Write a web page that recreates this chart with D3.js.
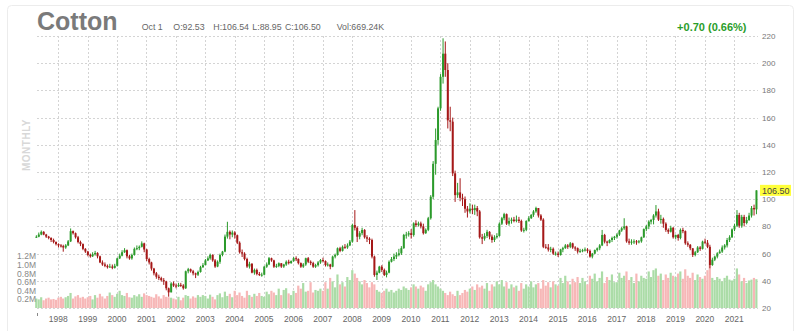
<!DOCTYPE html>
<html>
<head>
<meta charset="utf-8">
<script src="https://cdn.jsdelivr.net/npm/d3@7"></script>
<style>
  body { margin: 0; background: #fff; font-family: "Liberation Sans", Arial, sans-serif; }
</style>
</head>
<body>
<div id="chart"></div>
<script>
// monthly candles, Apr 1997 .. Oct 2021 (cents/lb), open = previous close
const firstMonth = new Date(1997, 3, 1);
const firstOpen = 72.0;

const closes = [
  72.4, 74.0, 76.0, 74.0, 72.5, 71.5, 70.0, 68.5, 67.0,                 // 1997 Apr-Dec
  66.0, 65.5, 64.5, 66.0, 69.0, 76.5, 75.0, 72.0, 68.5, 67.0, 63.5, 61.5, // 1998
  59.0, 58.0, 59.5, 60.5, 58.0, 53.5, 52.0, 51.0, 50.0, 50.5, 49.5, 51.0, // 1999
  56.5, 58.5, 61.0, 62.5, 58.0, 56.5, 59.0, 63.5, 64.0, 65.0, 67.5, 63.0, // 2000
  56.0, 53.5, 49.0, 45.5, 43.0, 42.0, 40.5, 39.5, 34.5, 31.5, 38.0, 36.5, // 2001
  36.0, 37.0, 36.5, 34.5, 47.0, 48.5, 47.0, 45.5, 44.5, 46.5, 50.0, 51.5, // 2002
  55.0, 56.5, 59.0, 55.0, 50.5, 54.0, 59.0, 61.5, 72.5, 76.0, 74.0, 75.5, // 2003
  73.5, 68.0, 61.0, 60.0, 56.0, 50.5, 52.5, 46.0, 48.0, 45.0, 44.3, 44.5, // 2004
  50.4, 52.0, 56.6, 55.0, 50.4, 51.0, 52.9, 50.5, 52.0, 54.0, 53.0, 54.5, // 2005
  56.6, 56.0, 53.0, 50.4, 52.0, 56.6, 54.0, 53.0, 50.4, 51.5, 53.5, 55.3, // 2006
  54.5, 51.6, 52.0, 50.4, 57.8, 59.0, 63.9, 62.0, 65.0, 64.5, 66.0, 68.8, // 2007
  81.0, 79.0, 72.4, 75.0, 77.4, 72.0, 71.0, 70.0, 57.8, 44.3, 46.0, 50.4, // 2008
  48.0, 44.3, 46.0, 54.0, 56.0, 57.8, 59.0, 60.2, 64.0, 73.7, 74.0, 75.0, // 2009
  73.7, 82.2, 81.0, 82.2, 80.0, 75.0, 77.5, 86.0, 101.8, 126.0, 143.5, 166.8, // 2010
  190.0, 207.0, 195.0, 158.0, 157.0, 119.0, 103.0, 105.0, 101.0, 100.0, 93.0, 91.0, // 2011
  93.0, 92.0, 93.5, 91.0, 72.0, 71.0, 73.0, 76.0, 72.5, 70.0, 72.0, 73.0, // 2012
  82.0, 86.0, 89.0, 82.0, 84.0, 85.0, 84.0, 85.0, 84.0, 77.0, 77.5, 84.0, // 2013
  86.0, 88.5, 91.0, 93.5, 88.0, 85.0, 65.0, 64.5, 63.0, 63.5, 60.0, 60.0, // 2014
  59.0, 63.0, 64.0, 66.0, 65.0, 67.5, 64.5, 64.0, 61.5, 62.0, 62.5, 63.0, // 2015
  62.0, 57.8, 60.0, 62.6, 63.9, 66.0, 73.7, 68.8, 68.0, 70.0, 71.5, 72.4, // 2016
  74.0, 77.0, 78.6, 80.0, 69.0, 68.0, 68.8, 69.0, 68.8, 69.0, 72.0, 78.0, // 2017
  80.0, 83.5, 84.7, 88.0, 91.0, 85.0, 85.5, 82.0, 77.4, 76.1, 79.0, 72.0, // 2018
  73.7, 71.5, 77.4, 76.5, 67.6, 66.5, 63.9, 59.0, 61.0, 64.5, 63.5, 68.8, // 2019
  68.0, 65.0, 51.6, 55.5, 57.8, 60.2, 61.5, 64.5, 66.0, 70.0, 72.0, 77.8, // 2020
  80.5, 88.4, 80.5, 87.0, 82.5, 84.7, 88.0, 93.5, 92.53, 106.5            // 2021 Jan-Oct
];

const highs = [
  73.5, 75.5, 77.0, 76.5, 74.5, 73.0, 72.0, 71.0, 69.0,
  67.5, 67.0, 66.5, 67.0, 70.0, 78.5, 77.0, 75.5, 73.0, 69.5, 67.5, 64.0,
  62.0, 60.0, 61.0, 62.0, 61.0, 58.5, 55.0, 53.5, 52.0, 52.5, 52.0, 52.5,
  57.0, 60.0, 62.5, 64.0, 63.0, 59.0, 60.0, 64.5, 66.0, 66.0, 69.0, 68.0,
  63.5, 57.0, 54.0, 49.5, 46.5, 44.5, 43.0, 42.0, 40.0, 35.0, 39.0, 39.5,
  38.0, 38.5, 38.5, 37.5, 47.5, 49.5, 49.0, 48.0, 46.0, 47.5, 51.0, 53.0,
  56.0, 58.0, 60.0, 59.5, 56.0, 55.0, 60.0, 62.0, 74.0, 83.4, 77.0, 77.0,
  76.5, 74.0, 69.0, 63.0, 61.0, 57.0, 54.0, 53.0, 49.0, 49.0, 46.5, 46.0,
  51.0, 53.5, 57.5, 57.0, 55.5, 52.5, 53.5, 53.0, 52.5, 55.0, 55.5, 55.0,
  57.5, 58.0, 56.5, 53.5, 53.0, 57.0, 57.5, 55.0, 54.0, 52.5, 54.5, 56.0,
  57.0, 55.0, 53.5, 52.5, 58.5, 60.0, 64.5, 65.0, 66.0, 67.0, 67.5, 70.0,
  82.0, 92.0, 80.0, 76.5, 79.0, 78.0, 73.5, 72.0, 71.0, 58.5, 47.5, 51.0,
  51.5, 49.0, 47.5, 55.0, 57.5, 60.0, 61.0, 63.5, 65.5, 74.5, 76.0, 76.5,
  78.0, 83.0, 84.5, 83.5, 83.5, 82.0, 78.5, 87.0, 103.0, 128.0, 152.0, 168.0,
  192.0, 218.3, 216.0, 200.0, 168.0, 160.0, 121.0, 112.0, 115.4, 104.0, 102.0, 95.0,
  97.0, 96.0, 96.0, 95.0, 92.0, 74.5, 75.0, 77.5, 76.5, 74.0, 73.5, 75.0,
  83.0, 87.0, 90.0, 89.5, 86.5, 86.5, 87.0, 88.0, 87.0, 85.0, 79.0, 84.5,
  87.5, 89.0, 92.0, 94.5, 93.5, 89.0, 86.0, 67.0, 67.0, 65.0, 64.5, 61.5,
  61.5, 63.5, 65.0, 67.0, 67.0, 68.5, 68.0, 65.5, 64.5, 63.5, 63.5, 64.5,
  64.0, 63.0, 60.5, 63.0, 64.5, 67.0, 77.4, 74.5, 69.5, 70.5, 72.5, 73.0,
  75.0, 77.5, 79.5, 86.0, 80.5, 71.0, 70.5, 70.5, 70.0, 70.0, 72.5, 78.5,
  81.0, 84.5, 85.5, 89.0, 95.7, 93.0, 88.5, 86.5, 83.0, 78.5, 80.5, 79.5,
  74.0, 74.5, 78.5, 79.0, 77.0, 69.0, 67.0, 64.0, 62.0, 65.5, 65.5, 69.5,
  71.0, 70.0, 66.5, 57.0, 58.5, 61.0, 63.0, 66.0, 67.0, 71.5, 73.5, 78.5,
  82.0, 92.0, 90.0, 88.5, 88.5, 87.0, 90.0, 95.0, 96.0, 106.54
];

const lows = [
  71.5, 72.0, 73.5, 73.5, 71.5, 70.5, 68.5, 67.5, 66.0,
  64.5, 64.5, 61.4, 63.5, 65.5, 68.5, 74.0, 71.0, 67.5, 65.5, 62.5, 60.5,
  58.0, 57.0, 57.5, 58.5, 56.5, 53.0, 51.0, 50.0, 49.0, 49.5, 48.5, 49.0,
  50.5, 56.0, 58.0, 60.5, 56.5, 55.5, 55.5, 58.5, 62.5, 62.5, 64.5, 61.0,
  54.5, 52.0, 47.5, 44.0, 41.5, 40.5, 39.5, 37.0, 33.0, 28.3, 32.5, 35.5,
  34.5, 35.5, 35.5, 33.5, 34.0, 45.5, 46.0, 44.0, 42.0, 43.5, 46.0, 49.5,
  51.5, 54.5, 55.5, 54.0, 49.5, 50.0, 52.5, 58.0, 61.0, 71.0, 70.5, 72.0,
  71.0, 67.0, 60.0, 57.5, 55.0, 49.5, 49.0, 45.5, 44.5, 44.0, 43.5, 43.0,
  44.0, 49.5, 51.5, 54.0, 49.5, 49.5, 50.0, 49.5, 49.5, 51.0, 52.0, 52.5,
  54.0, 54.5, 52.0, 49.5, 49.5, 51.0, 53.0, 51.5, 49.5, 49.5, 50.5, 52.5,
  53.5, 50.5, 50.5, 48.5, 50.0, 56.5, 58.5, 61.0, 61.5, 63.5, 63.5, 65.5,
  68.0, 77.0, 68.5, 70.5, 73.5, 71.0, 68.5, 67.0, 56.5, 43.0, 40.6, 45.5,
  46.5, 43.5, 42.5, 45.5, 53.5, 54.5, 56.0, 58.0, 59.0, 63.5, 71.0, 72.5,
  71.0, 72.5, 79.5, 80.0, 78.5, 74.0, 74.5, 76.5, 85.0, 100.0, 118.0, 140.0,
  165.0, 185.0, 190.0, 152.0, 150.0, 117.0, 98.0, 101.0, 98.5, 95.0, 90.0, 86.5,
  89.5, 89.0, 88.5, 87.5, 71.0, 67.0, 69.5, 71.5, 70.5, 68.0, 68.5, 71.0,
  72.5, 81.0, 84.5, 81.0, 80.5, 82.0, 83.0, 83.0, 82.5, 76.0, 75.5, 76.5,
  83.5, 85.5, 87.0, 90.0, 86.5, 84.0, 64.0, 63.5, 61.5, 61.0, 59.0, 58.5,
  57.5, 58.5, 61.0, 63.5, 63.5, 64.0, 63.5, 62.0, 60.0, 60.5, 61.0, 61.5,
  60.5, 57.0, 56.5, 59.5, 61.5, 62.5, 65.5, 67.5, 65.5, 67.5, 68.5, 70.0,
  71.0, 73.0, 76.0, 77.5, 68.0, 66.5, 66.5, 67.0, 66.5, 67.5, 68.0, 71.5,
  76.5, 78.0, 81.5, 81.5, 86.5, 84.0, 82.0, 79.0, 76.0, 74.5, 75.5, 71.0,
  70.5, 69.5, 70.5, 75.0, 66.5, 65.0, 62.5, 57.5, 58.0, 60.5, 62.0, 63.0,
  67.0, 64.0, 49.2, 51.0, 54.5, 56.5, 60.0, 60.5, 63.0, 64.5, 68.5, 71.5,
  76.5, 79.5, 79.0, 79.0, 80.0, 81.5, 84.0, 86.5, 88.0, 88.95
];

// volume, millions of contracts
const volumes = [
  0.22, 0.20, 0.25, 0.18, 0.22, 0.24, 0.20, 0.21, 0.19,
  0.24, 0.26, 0.22, 0.25, 0.28, 0.35, 0.22, 0.27, 0.30, 0.24, 0.26, 0.22,
  0.25, 0.28, 0.20, 0.30, 0.24, 0.33, 0.27, 0.22, 0.28, 0.36, 0.30, 0.26,
  0.33, 0.40, 0.30, 0.28, 0.35, 0.25, 0.24, 0.30, 0.27, 0.32, 0.26, 0.34,
  0.30, 0.28, 0.26, 0.24, 0.32, 0.27, 0.22, 0.30, 0.26, 0.25, 0.24, 0.22,
  0.20, 0.26, 0.18, 0.24, 0.30, 0.28, 0.22, 0.27, 0.24, 0.30, 0.26, 0.30,
  0.28, 0.22, 0.31, 0.26, 0.20, 0.30, 0.34, 0.25, 0.38, 0.28, 0.33, 0.25,
  0.40, 0.30, 0.36, 0.28, 0.24, 0.40, 0.30, 0.26, 0.33, 0.28, 0.35, 0.28,
  0.26, 0.38, 0.32, 0.40, 0.36, 0.30, 0.45, 0.30, 0.42, 0.46, 0.34, 0.30,
  0.40, 0.35, 0.52, 0.45, 0.58, 0.38, 0.40, 0.60, 0.36, 0.42, 0.40, 0.45,
  0.40, 0.60, 0.45, 0.70, 0.62, 0.48, 0.78, 0.55, 0.60, 0.50, 0.72, 0.65,
  0.88, 0.80, 0.70, 0.62, 0.55, 0.65, 0.58, 0.48, 0.60, 0.55, 0.42, 0.38,
  0.35, 0.40, 0.45, 0.38, 0.42, 0.36, 0.40, 0.45, 0.42, 0.50, 0.46, 0.42,
  0.48, 0.55, 0.50, 0.45, 0.52, 0.48, 0.40, 0.55, 0.60, 0.65, 0.55, 0.50,
  0.45, 0.40, 0.35, 0.30, 0.38, 0.32, 0.28, 0.40, 0.30, 0.35, 0.42, 0.38,
  0.45, 0.50, 0.42, 0.55, 0.48, 0.52, 0.45, 0.58, 0.40, 0.55, 0.50, 0.62,
  0.55, 0.65, 0.50, 0.60, 0.45, 0.55, 0.48, 0.52, 0.40, 0.58, 0.45, 0.55,
  0.50, 0.62, 0.48, 0.55, 0.58, 0.45, 0.65, 0.52, 0.60, 0.48, 0.62, 0.55,
  0.52, 0.70, 0.58, 0.75, 0.62, 0.55, 0.68, 0.60, 0.72, 0.58, 0.70, 0.62,
  0.55, 0.75, 0.68, 0.80, 0.62, 0.70, 0.85, 0.58, 0.72, 0.65, 0.78, 0.60,
  0.60, 0.82, 0.70, 0.75, 0.85, 0.65, 0.72, 0.58, 0.80, 0.62, 0.75, 0.70,
  0.68, 0.85, 0.72, 0.88, 0.92, 0.75, 0.80, 0.65, 0.78, 0.70, 0.82, 0.75,
  0.72, 0.80, 0.85, 0.68, 0.90, 0.75, 0.70, 0.82, 0.65, 0.78, 0.72, 0.68,
  0.75, 0.88, 1.00, 0.70, 0.65, 0.72, 0.68, 0.62, 0.70, 0.75, 0.66, 0.64,
  0.68, 0.92, 0.78, 0.62, 0.70, 0.58, 0.64, 0.66, 0.70, 0.66924
];

const priceTicks = [20, 40, 60, 80, 100, 120, 140, 160, 180, 200, 220];
const volTicks = [0.2, 0.4, 0.6, 0.8, 1.0, 1.2];
const yearTicks = d3.range(1998, 2022);

const w = 800, h = 331;
const plotLeft = 37, plotRight = 758, plotTop = 36, plotBottom = 308;

const months = d3.timeMonth.range(firstMonth, new Date(2021, 10, 1));
const data = months.map((d, i) => ({
  date: d,
  o: i ? closes[i - 1] : firstOpen,
  h: highs[i], l: lows[i], c: closes[i], v: volumes[i]
}));

const xScale = d3.scaleTime()
  .domain([new Date(1998, 0, 1), new Date(2021, 0, 1)])
  .range([58.3, 734.3]);
const yScale = d3.scaleLinear().domain([20, 220]).range([plotBottom, plotTop]);
const vScale = d3.scaleLinear().domain([0, 1]).range([plotBottom, plotBottom - 43]);

const svg = d3.select("#chart").append("svg")
  .attr("width", w).attr("height", h);

svg.append("rect")
  .attr("x", 7.5).attr("y", 5.5).attr("width", 786).attr("height", 340).attr("rx", 4)
  .attr("fill", "none").attr("stroke", "#ececec");

// grid
svg.append("g").selectAll("line").data(priceTicks).enter().append("line")
  .attr("x1", plotLeft).attr("x2", plotRight)
  .attr("y1", d => Math.round(yScale(d)) + 0.5).attr("y2", d => Math.round(yScale(d)) + 0.5)
  .attr("stroke", "#d4d4d4").attr("stroke-dasharray", "2,2");
svg.append("g").selectAll("line").data(yearTicks).enter().append("line")
  .attr("x1", d => Math.round(xScale(new Date(d, 0, 1))) + 0.5)
  .attr("x2", d => Math.round(xScale(new Date(d, 0, 1))) + 0.5)
  .attr("y1", plotTop).attr("y2", plotBottom)
  .attr("stroke", "#d4d4d4").attr("stroke-dasharray", "2,2");

// volume
svg.append("g").selectAll("rect").data(data).enter().append("rect")
  .attr("x", d => xScale(d.date) - 1)
  .attr("y", d => vScale(d.v))
  .attr("width", 2.2)
  .attr("height", d => plotBottom - vScale(d.v))
  .attr("fill", d => d.c >= d.o ? "#abdca7" : "#f7b7b7");

// candles
const up = "#2b9a2b", down = "#a51818";
const candles = svg.append("g").selectAll("g").data(data).enter().append("g");
candles.append("line")
  .attr("x1", d => xScale(d.date) + 0.2).attr("x2", d => xScale(d.date) + 0.2)
  .attr("y1", d => yScale(Math.max(d.h, d.o, d.c)))
  .attr("y2", d => yScale(Math.min(d.l, d.o, d.c)))
  .attr("stroke", d => d.c >= d.o ? up : down).attr("stroke-width", 1);
candles.append("rect")
  .attr("x", d => xScale(d.date) - 0.8)
  .attr("y", d => yScale(Math.max(d.o, d.c)))
  .attr("width", 2)
  .attr("height", d => Math.max(1, Math.abs(yScale(d.o) - yScale(d.c))))
  .attr("fill", d => d.c >= d.o ? up : down);

// right price axis
svg.append("g").selectAll("text").data(priceTicks).enter().append("text")
  .attr("x", 762).attr("y", d => yScale(d) + 3)
  .attr("font-size", 8).attr("fill", "#777")
  .text(d => d);

// last price marker
const last = data[data.length - 1];
svg.append("rect")
  .attr("x", 760).attr("y", yScale(last.c) - 5.5).attr("width", 31).attr("height", 11)
  .attr("fill", "#ffff3a");
svg.append("text")
  .attr("x", 762).attr("y", yScale(last.c) + 3.2)
  .attr("font-size", 9).attr("fill", "#444")
  .text(last.c.toFixed(2));

// volume axis
svg.append("g").selectAll("text").data(volTicks).enter().append("text")
  .attr("x", 36).attr("y", d => vScale(d) + 3)
  .attr("text-anchor", "end").attr("font-size", 8.5).attr("fill", "#888")
  .text(d => d.toFixed(1) + "M");

// years
svg.append("g").selectAll("text").data(yearTicks).enter().append("text")
  .attr("x", d => xScale(new Date(d, 0, 1)))
  .attr("y", 322)
  .attr("text-anchor", "middle").attr("font-size", 8.5).attr("fill", "#666")
  .text(d => d);
svg.append("line")
  .attr("x1", 37.5).attr("x2", 37.5).attr("y1", 313).attr("y2", 316)
  .attr("stroke", "#888");

// interval label
svg.append("text")
  .attr("transform", "translate(30,145) rotate(-90)")
  .attr("text-anchor", "middle").attr("font-size", 10).attr("font-weight", "bold")
  .attr("fill", "#d8d8d8").attr("letter-spacing", 0.5)
  .text("MONTHLY");

// header
svg.append("text")
  .attr("x", 37).attr("y", 30)
  .attr("font-size", 25).attr("font-weight", "bold").attr("fill", "#7a7a7a")
  .text("Cotton");

const headerItems = [
  { x: 141.7, t: "Oct 1" },
  { x: 173.3, t: "O:" + last.o.toFixed(2) },
  { x: 213.3, t: "H:" + last.h.toFixed(2) },
  { x: 252.3, t: "L:" + last.l.toFixed(2) },
  { x: 285, t: "C:" + last.c.toFixed(2) },
  { x: 336.7, t: "Vol:" + (last.v * 1000).toFixed(2) + "K" }
];
svg.append("g").selectAll("text").data(headerItems).enter().append("text")
  .attr("x", d => d.x).attr("y", 29.5)
  .attr("font-size", 8.8).attr("fill", "#666")
  .text(d => d.t);

svg.append("text")
  .attr("x", 746.5).attr("y", 30.5)
  .attr("text-anchor", "end").attr("font-size", 11).attr("font-weight", "bold").attr("fill", "#2a9d2a")
  .text("+0.70 (0.66%)");
</script>
</body>
</html>
